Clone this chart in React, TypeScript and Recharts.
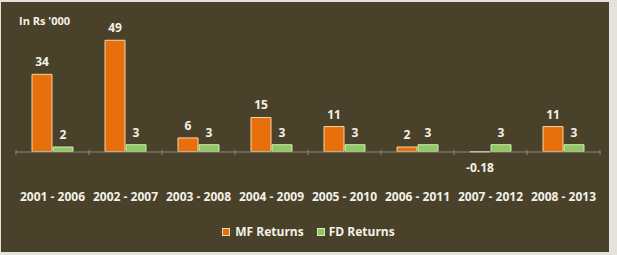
import { BarChart, Bar, XAxis, YAxis, LabelList, Cell } from "recharts";

const PERIODS = [
  "2001 - 2006",
  "2002 - 2007",
  "2003 - 2008",
  "2004 - 2009",
  "2005 - 2010",
  "2006 - 2011",
  "2007 - 2012",
  "2008 - 2013",
];
const MF_RETURNS = [34, 49, 6, 15, 11, 2, -0.18, 11];
const FD_RETURNS = [2, 3, 3, 3, 3, 3, 3, 3];
const MF_LABELS = ["34", "49", "6", "15", "11", "2", "-0.18", "11"];
const FD_LABELS = ["2", "3", "3", "3", "3", "3", "3", "3"];

const data = PERIODS.map((period, i) => ({
  period,
  mf: MF_RETURNS[i],
  fd: FD_RETURNS[i],
  mfLabel: MF_LABELS[i],
  fdLabel: FD_LABELS[i],
}));

const W = 617;
const H = 255;
const MARGIN = { top: 38, right: 17, bottom: 58, left: 16 };
const BAND = (W - MARGIN.left - MARGIN.right) / PERIODS.length;

const TEXT = "#f3f1e6";
const FONT = "'Open Sans', sans-serif";
const ORANGE = "#e8700c";
const GREEN = "#8fc862";

// value label: above positive bars, below the axis for negatives
function ValueLabel(props: any) {
  const { x, y, width, height, value } = props;
  const neg = String(value).startsWith("-");
  const cy = neg ? y + Math.abs(height) + 20 : y - 8;
  return (
    <text
      x={x + width / 2}
      y={cy}
      textAnchor="middle"
      fill={TEXT}
      fontFamily={FONT}
      fontWeight={700}
      fontSize={12}
    >
      {value}
    </text>
  );
}

function PeriodTick(props: any) {
  const { x, y, payload, index } = props;
  const left = x - BAND / 2;
  return (
    <g>
      <line x1={left} y1={y - 2} x2={left} y2={y + 3} stroke="#8c8a7c" />
      {index === PERIODS.length - 1 && (
        <line x1={left + BAND} y1={y - 2} x2={left + BAND} y2={y + 3} stroke="#8c8a7c" />
      )}
      <text
        x={x}
        y={y + 49}
        textAnchor="middle"
        fill={TEXT}
        fontFamily={FONT}
        fontWeight={700}
        fontSize={12}
      >
        {payload.value}
      </text>
    </g>
  );
}

export default function App() {
  return (
    <div
      style={{
        position: "fixed",
        left: 0,
        top: 0,
        width: W,
        height: H,
        background: "#e3e3dc",
        fontFamily: FONT,
      }}
    >
      <div
        style={{
          position: "absolute",
          left: 1,
          top: 2,
          width: 608,
          height: 250,
          background: "#4a412b",
        }}
      />
      <div
        style={{
          position: "absolute",
          left: 19,
          top: 13,
          color: TEXT,
          fontWeight: 700,
          fontSize: 11,
          lineHeight: "16px",
        }}
      >
        In Rs '000
      </div>
      <div style={{ position: "absolute", left: 0, top: 0 }}>
        <BarChart width={W} height={H} data={data} margin={MARGIN} barSize={20} barGap={1}>
          <XAxis
            dataKey="period"
            axisLine={{ stroke: "#8c8a7c" }}
            tickLine={false}
            tickSize={0}
            tickMargin={0}
            height={45}
            interval={0}
            tick={<PeriodTick />}
          />
          <YAxis hide domain={[-0.2, 50]} />
          <Bar dataKey="mf" fill={ORANGE} stroke="#f4d6a6" strokeWidth={1} isAnimationActive={false}>
            {data.map((d, i) => (
              <Cell key={i} fill={d.mf < 0 ? "#d8d4c8" : ORANGE} stroke={d.mf < 0 ? "#ecebe4" : "#f4d6a6"} />
            ))}
            <LabelList dataKey="mfLabel" content={<ValueLabel />} />
          </Bar>
          <Bar dataKey="fd" fill={GREEN} stroke="#d3ecb4" strokeWidth={1} isAnimationActive={false}>
            <LabelList dataKey="fdLabel" content={<ValueLabel />} />
          </Bar>
        </BarChart>
      </div>
      <div
        style={{
          position: "absolute",
          left: 0,
          top: 224,
          width: W,
          display: "flex",
          justifyContent: "center",
          alignItems: "center",
          color: TEXT,
          fontWeight: 700,
          fontSize: 12,
          lineHeight: "16px",
        }}
      >
        <span style={{ width: 6, height: 6, background: ORANGE, border: "1px solid #f4d6a6", marginRight: 5 }} />
        <span style={{ marginRight: 13 }}>MF Returns</span>
        <span style={{ width: 6, height: 6, background: GREEN, border: "1px solid #d3ecb4", marginRight: 4 }} />
        <span>FD Returns</span>
      </div>
    </div>
  );
}
